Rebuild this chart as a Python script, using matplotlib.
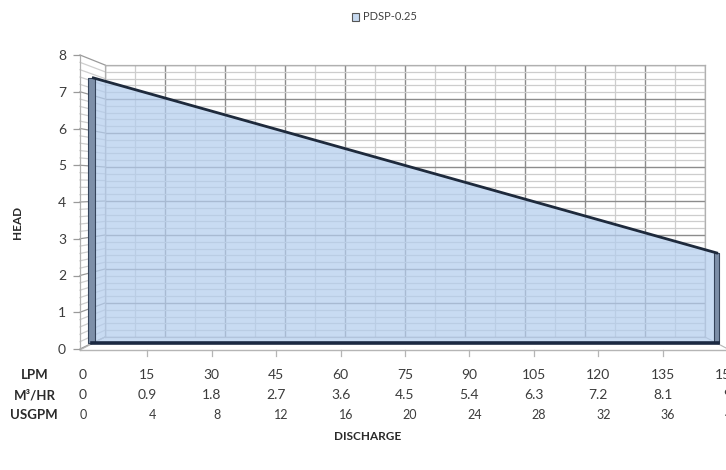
import numpy as np
import matplotlib
matplotlib.use("Agg")
import matplotlib.pyplot as plt
from matplotlib.patches import Patch
from matplotlib.ticker import MultipleLocator
from matplotlib.transforms import blended_transform_factory

plt.rcParams['font.family'] = ['Lato', 'DejaVu Sans']

# ---- data ----
lpm = [0, 15, 30, 45, 60, 75, 90, 105, 120, 135, 150]
m3hr = ["0", "0.9", "1.8", "2.7", "3.6", "4.5", "5.4", "6.3", "7.2", "8.1", "9"]
usgpm = ["0", "4", "8", "12", "16", "20", "24", "28", "32", "36", "40"]
head = [7.4, 6.91, 6.42, 5.93, 5.44, 4.95, 4.46, 3.97, 3.48, 2.99, 2.5]
series_name = "PDSP-0.25"
y_ticks = [0, 1, 2, 3, 4, 5, 6, 7, 8]

W, H = 726, 470
fig = plt.figure(figsize=(W / 100, H / 100), dpi=100)

def fr(x0, y0, x1, y1):
    # pixel box -> figure fraction [left, bottom, width, height]
    return [x0 / W, 1 - y1 / H, (x1 - x0) / W, (y1 - y0) / H]

# background pixel-coordinate axes for wall structure
bg = fig.add_axes([0, 0, 1, 1])
bg.set_xlim(0, W)
bg.set_ylim(H, 0)
bg.axis('off')

# side wall stripes (left wall, perspective)
for v in np.arange(0, 8.001, 0.2):
    yf = 349 - v * 36.75
    yb = 337 - v * 34.0
    major = abs(v - round(v)) < 1e-6
    bg.plot([80, 105], [yf, yb], color='#9a9a9a' if major else '#cfcfcf',
            lw=0.9, zorder=1)
bg.plot([80, 80], [55, 350], color='#b0b0b0', lw=0.9, zorder=1)
# floor
bg.plot([80, 726], [350, 350], color='#b5b5b5', lw=1.0, zorder=1)
bg.plot([80, 105], [350, 337], color='#b5b5b5', lw=0.8, zorder=1)
bg.plot([705, 726], [337, 348], color='#b5b5b5', lw=0.8, zorder=1)

# back wall with grid
wall = fig.add_axes(fr(105, 65, 705, 337))
wall.set_xlim(0, 150)
wall.set_ylim(0, 8)
wall.set_facecolor('none')
wall.xaxis.set_major_locator(MultipleLocator(15))
wall.xaxis.set_minor_locator(MultipleLocator(7.5))
wall.yaxis.set_major_locator(MultipleLocator(1))
wall.yaxis.set_minor_locator(MultipleLocator(0.2))
wall.grid(which='major', color='#8c8c8c', lw=1.0)
wall.grid(which='minor', color='#cdcdcd', lw=0.9)
wall.tick_params(which='both', length=0, labelbottom=False, labelleft=False)
for s in wall.spines.values():
    s.set_color('#b0b0b0')
    s.set_linewidth(0.9)
wall.set_axisbelow(True)

# main data axes (front face of the area)
ax = fig.add_axes(fr(92, 56, 718, 343))
ax.set_xlim(0, 150)
ax.set_ylim(0, 8)
ax.axis('off')
ax.fill_between(lpm, 0, head, facecolor='#b3cdee', alpha=0.72, lw=0, zorder=2)
# left and right depth faces
ax.fill_betweenx([0, head[0]], -0.95, 0.75, facecolor='#7d8fa8', edgecolor='#34435a',
                 lw=0.8, zorder=3, clip_on=False)
ax.fill_betweenx([0, head[-1]], 149.0, 150.2, facecolor='#7d8fa8', edgecolor='#34435a',
                 lw=0.8, zorder=3, clip_on=False)
ax.plot(lpm, head, color='#1e2a3c', lw=2.0, zorder=4, clip_on=False,
        solid_capstyle='butt')
ax.plot([lpm[0], lpm[-1]], [0, 0], color='#1b2942', lw=2.6, zorder=4, clip_on=False)

# y-axis labels
yax = fig.add_axes(fr(80, 55, 81, 349))
yax.set_ylim(0, 8)
yax.set_xlim(0, 1)
yax.set_facecolor('none')
for k in ['top', 'right', 'bottom', 'left']:
    yax.spines[k].set_visible(False)
yax.set_xticks([])
yax.set_yticks(y_ticks)
yax.tick_params(axis='y', length=5, width=0.9, color='#9a9a9a', pad=5,
                labelsize=10, labelcolor='#3c3c3c')

# x-axis labels (three rows)
xax = fig.add_axes(fr(83, 350, 727, 351))
xax.set_xlim(0, 150)
xax.axis('off')
tr = blended_transform_factory(xax.transData, bg.transData)
for i, x in enumerate(lpm):
    if i > 0:
        bg.plot([83 + (727 - 83) * x / 150] * 2, [350, 356], color='#b5b5b5', lw=0.9)
    xax.text(x, 375, str(x), transform=tr, ha='center', va='center', fontsize=10,
             color='#3c3c3c', clip_on=False)
    xax.text(x, 395, m3hr[i], transform=tr, ha='center', va='center', fontsize=10,
             color='#3c3c3c', clip_on=False)
    xax.text(x + (1.2 if i > 0 else 0), 415, usgpm[i], transform=tr, ha='center',
             va='center', fontsize=9, color='#3c3c3c', clip_on=False)

hdr = dict(ha='center', va='center', fontsize=9.5, fontweight='bold', color='#2a2a2a')
bg.text(35, 375, 'LPM', **hdr)
bg.text(35, 395, 'M³/HR', **hdr)
bg.text(34, 415, 'USGPM', **hdr)

bg.text(368, 436, 'DISCHARGE', ha='center', va='center', fontsize=8.5,
        fontweight='bold', color='#2a2a2a')
bg.text(17, 222, 'HEAD', ha='center', va='center', fontsize=8.5, rotation=90,
        fontweight='bold', color='#2a2a2a')

fig.legend(handles=[Patch(facecolor='#c6d9f0', edgecolor='#555555', lw=0.8)],
           labels=[series_name], loc='center', bbox_to_anchor=(384 / W, 1 - 17 / H),
           frameon=False, fontsize=8, handlelength=0.7, handleheight=0.7,
           handletextpad=0.3, labelcolor='#404040')

fig.savefig('out.png', dpi=100)
